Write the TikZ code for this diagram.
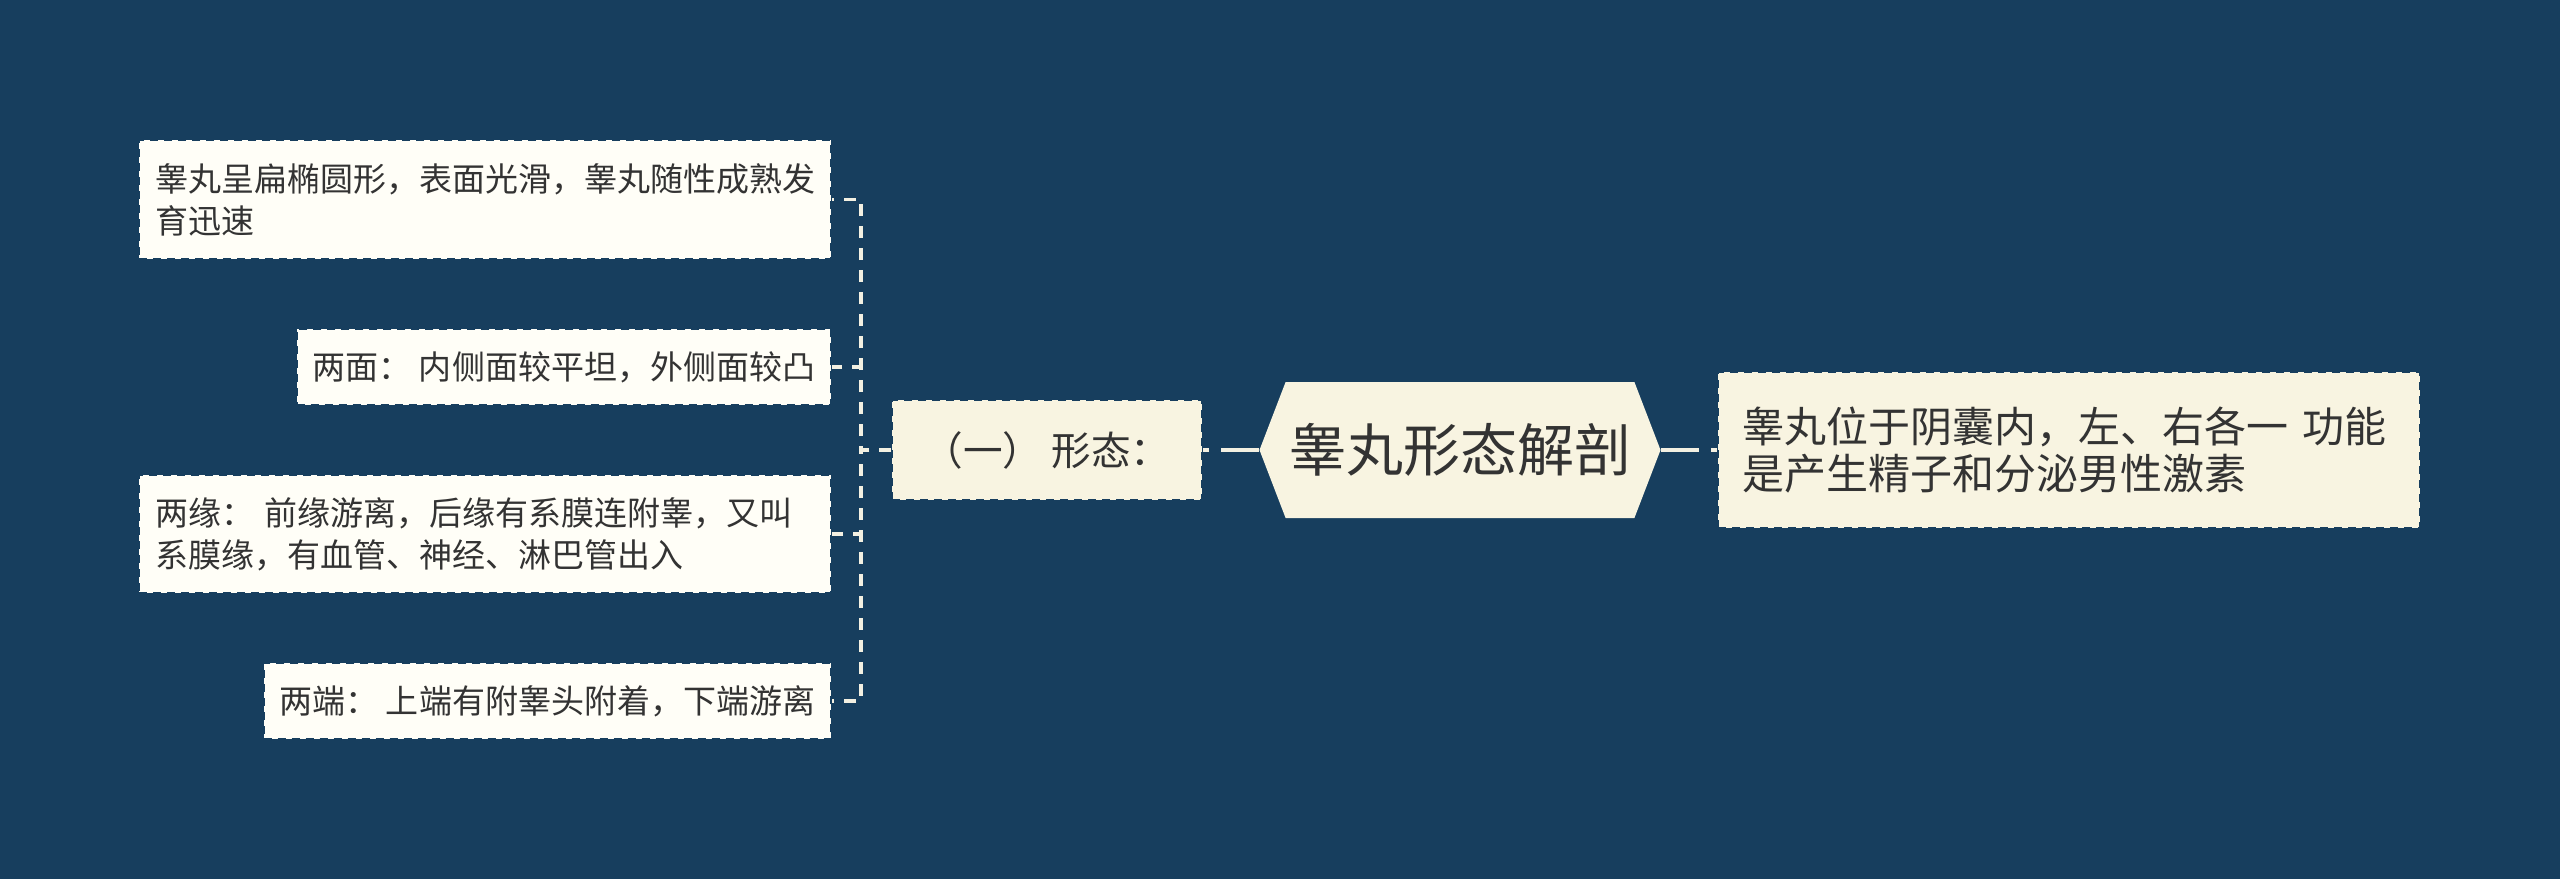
\documentclass[tikz,border=0pt]{standalone}
\usepackage{fontspec}
\newfontfamily\cjkfont{Noto Sans CJK SC}
\usepackage{xcolor}
\usetikzlibrary{shapes.symbols,positioning}
\definecolor{bgblue}{HTML}{173E5E}
\definecolor{cream}{HTML}{F8F4E1}
\definecolor{leafwhite}{HTML}{FFFEF7}
\definecolor{inkgray}{HTML}{333333}
\definecolor{linecream}{HTML}{F3F0E2}

\begin{document}
\begin{tikzpicture}[x=0.5pt,y=-0.5pt,
    leaf/.style={draw=bgblue, dash pattern=on 4pt off 3pt, line width=1pt, fill=leafwhite, text=inkgray,
        font=\cjkfont\fontsize{16.5}{21}\selectfont, align=left, inner xsep=8pt, inner ysep=0pt, anchor=east},
    wideleaf/.style={leaf, text width=330pt},
    branch/.style={draw=bgblue, dash pattern=on 4pt off 3pt, line width=1pt, fill=cream, text=inkgray, align=left, inner ysep=0pt},
    root/.style={signal, signal to=west and east, signal pointer angle=138, fill=cream, text=inkgray,
        font=\cjkfont\fontsize{28.5}{34}\selectfont, minimum width=200.5pt, minimum height=68pt, inner sep=0pt},
    link/.style={draw=linecream, line width=1.6pt, dash pattern=on 6pt off 5pt},
    trunk/.style={draw=linecream, line width=2pt, dash pattern=on 19pt off 6pt}]

    \fill[bgblue] (0,0) rectangle (2560,879);

    \node[root] (hub) at (1460,450) {睾丸形态解剖};
    \node[branch, font=\cjkfont\fontsize{19.8}{23}\selectfont, minimum width=155pt, minimum height=50pt] (form) at (1047,450) {（一） 形态：};
    \node[branch, font=\cjkfont\fontsize{21}{23.3}\selectfont, text width=327pt, inner xsep=12pt, minimum height=78pt] (site) at (2069,450) {睾丸位于阴囊内，左、右各一 功能\\是产生精子和分泌男性激素};

    \node[wideleaf, minimum height=59.5pt] (shape) at (832,199.5) {睾丸呈扁椭圆形，表面光滑，睾丸随性成熟发\\育迅速};
    \node[leaf, minimum height=38pt] (faces) at (832,367) {两面： 内侧面较平坦，外侧面较凸};
    \node[wideleaf, minimum height=59pt] (edges) at (832,534) {两缘： 前缘游离，后缘有系膜连附睾，又叫\\系膜缘，有血管、神经、淋巴管出入};
    \node[leaf, minimum height=38pt] (ends) at (832,701) {两端： 上端有附睾头附着，下端游离};

    \draw[trunk] (hub.west) -- (form.east);
    \draw[trunk] (hub.east) -- (site.west);
    \foreach \leafname in {shape,faces,edges,ends}
        \draw[link] (form.west) -- ++(-30,0) |- (\leafname.east);
\end{tikzpicture}
\end{document}
